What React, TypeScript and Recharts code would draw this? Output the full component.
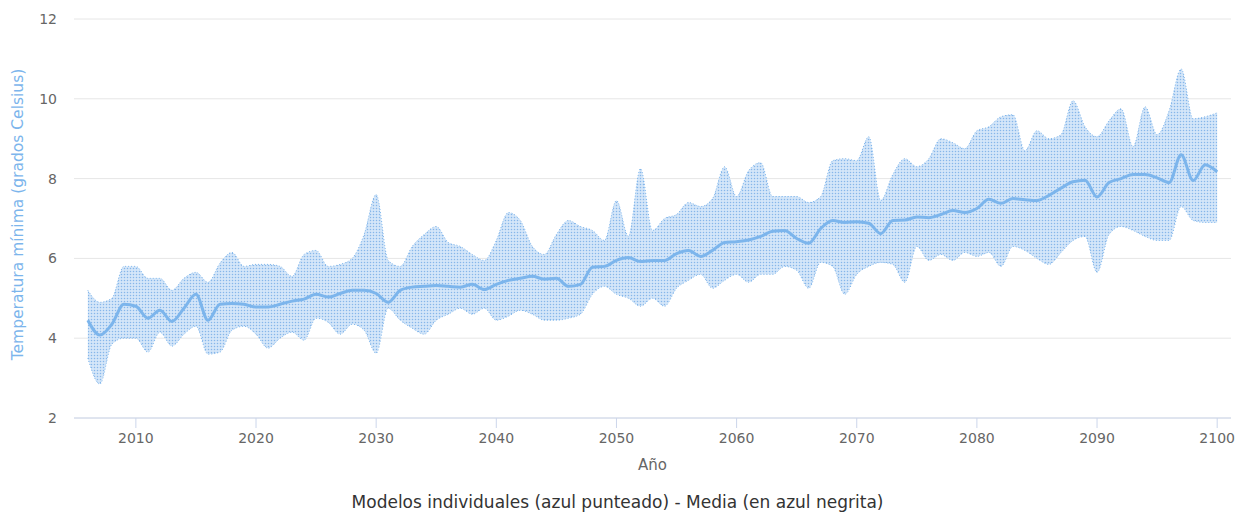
import React from "react";
import {
  ComposedChart,
  Area,
  Line,
  XAxis,
  YAxis,
  CartesianGrid,
} from "recharts";

// ─── Data ──────────────────────────────────────────────────────────────────────

const FIRST_YEAR = 2006;

// ensemble mean (bold line), 2006 → 2100
const meanTemp = [
  4.45, 4.08, 4.35, 4.85, 4.8, 4.5, 4.7, 4.42, 4.75, 5.1, 4.45, 4.85, 4.87, 4.85, 4.78, 4.78, 4.85, 4.93, 4.98, 5.1, 5.03, 5.12, 5.2, 5.2, 5.12,
  4.9, 5.2, 5.28, 5.3, 5.32, 5.3, 5.28, 5.35, 5.22, 5.35, 5.45, 5.5, 5.55, 5.48, 5.5, 5.3, 5.35, 5.78, 5.8, 5.95, 6.02, 5.92, 5.95, 5.95,
  6.12, 6.2, 6.05, 6.2, 6.4, 6.42, 6.46, 6.55, 6.68, 6.7, 6.5, 6.38, 6.75, 6.95, 6.9, 6.92, 6.88, 6.62, 6.95, 6.96, 7.04, 7.02, 7.1, 7.2,
  7.15, 7.25, 7.48, 7.38, 7.5, 7.47, 7.45, 7.58, 7.76, 7.92, 7.96, 7.54, 7.9, 8.0, 8.1, 8.1, 8.02, 7.9, 8.6, 7.95, 8.35, 8.17,
];

// highest of the individual models
const modelMax = [
  5.2, 4.9, 5.0, 5.8, 5.8, 5.5, 5.5, 5.2, 5.5, 5.65, 5.4, 5.88, 6.15, 5.8, 5.85, 5.85, 5.8, 5.55, 6.1, 6.2, 5.8, 5.85, 6.0, 6.6, 7.6,
  5.95, 5.8, 6.3, 6.6, 6.8, 6.4, 6.3, 6.1, 5.95, 6.45, 7.15, 6.95, 6.3, 6.1, 6.6, 6.95, 6.8, 6.7, 6.45, 7.45, 6.55, 8.25, 6.7, 7.0,
  7.1, 7.4, 7.3, 7.5, 8.3, 7.55, 8.2, 8.4, 7.55, 7.55, 7.55, 7.4, 7.55, 8.45, 8.5, 8.45, 9.05, 7.45, 8.1, 8.5, 8.3, 8.5, 9.0, 8.9,
  8.75, 9.2, 9.3, 9.55, 9.6, 8.7, 9.2, 9.0, 9.1, 9.95, 9.3, 9.05, 9.45, 9.75, 8.8, 9.8, 9.1, 9.7, 10.75, 9.5, 9.55, 9.65,
];

// lowest of the individual models
const modelMin = [
  3.5, 2.85, 3.85, 4.0, 4.0, 3.65, 4.15, 3.8, 4.1, 4.3, 3.6, 3.65, 4.2, 4.3, 4.1, 3.75, 4.0, 4.15, 3.95, 4.5, 4.4, 4.1, 4.35, 4.2, 3.62,
  4.75, 4.45, 4.25, 4.1, 4.45, 4.6, 4.75, 4.6, 4.75, 4.45, 4.55, 4.7, 4.6, 4.45, 4.45, 4.5, 4.6, 5.1, 5.3, 5.1, 5.0, 4.8, 5.0, 4.8,
  5.25, 5.45, 5.6, 5.25, 5.45, 5.6, 5.4, 5.6, 5.6, 5.8, 5.7, 5.25, 5.9, 5.8, 5.1, 5.6, 5.8, 5.9, 5.85, 5.4, 6.3, 5.95, 6.1, 5.95,
  6.15, 6.05, 6.15, 5.8, 6.3, 6.2, 6.0, 5.85, 6.15, 6.45, 6.55, 5.65, 6.6, 6.8, 6.7, 6.55, 6.45, 6.45, 7.3, 6.95, 6.9, 6.9,
];

const yearTicks = [2010, 2020, 2030, 2040, 2050, 2060, 2070, 2080, 2090, 2100];
const tempTicks = [2, 4, 6, 8, 10, 12];

const rows = meanTemp.map((m, i) => ({
  year: FIRST_YEAR + i,
  mean: m,
  range: [modelMin[i], modelMax[i]],
}));

// ─── Styles ────────────────────────────────────────────────────────────────────

const FONT = "'DejaVu Sans', sans-serif";
const BLUE = "#7cb5ec";

const yTitle = (p: any) => {
  const { y, height } = p.viewBox;
  const cx = 18;
  const cy = y + height / 2 - 4;
  return (
    <text
      x={cx}
      y={cy}
      transform={`rotate(-90, ${cx}, ${cy})`}
      textAnchor="middle"
      dominantBaseline="central"
      fill={BLUE}
      fontSize={15.5}
      fontFamily={FONT}
    >
      Temperatura mínima (grados Celsius)
    </text>
  );
};

const xTitle = (p: any) => {
  const { x, width } = p.viewBox;
  return (
    <text
      x={x + width / 2}
      y={465}
      textAnchor="middle"
      dominantBaseline="central"
      fill="#666666"
      fontSize={15}
      fontFamily={FONT}
    >
      Año
    </text>
  );
};

// ─── Component ─────────────────────────────────────────────────────────────────

export default function App() {
  return (
    <div style={{ position: "absolute", left: 0, top: 0, width: 1239, height: 519, background: "#fff" }}>
      <ComposedChart
        width={1239}
        height={519}
        data={rows}
        margin={{ top: 19, right: 8, left: 0, bottom: 41 }}
      >
        <defs>
          <pattern id="modelDots" width="3" height="3" patternUnits="userSpaceOnUse">
            <rect width="3" height="3" fill="#d4e6f9" />
            <circle cx="1.5" cy="1.5" r="0.75" fill="#86b6ea" />
          </pattern>
        </defs>
        <CartesianGrid vertical={false} stroke="#e6e6e6" />
        <XAxis
          dataKey="year"
          type="number"
          domain={[2004.85, 2101.15]}
          ticks={yearTicks}
          allowDataOverflow
          height={60}
          tickSize={10}
          tickMargin={5}
          stroke="#ccd6eb"
          tick={{ fill: "#666666", fontSize: 14, fontFamily: FONT }}
          label={xTitle}
        />
        <YAxis
          type="number"
          domain={[2, 12]}
          ticks={tempTicks}
          width={74}
          axisLine={false}
          tickLine={false}
          tickSize={0}
          tickMargin={17}
          tick={{ fill: "#666666", fontSize: 14, fontFamily: FONT }}
          label={yTitle}
        />
        {/* envelope of the individual models, dotted texture */}
        <Area
          dataKey="range"
          type="monotone"
          fill="url(#modelDots)"
          fillOpacity={1}
          stroke={BLUE}
          strokeWidth={1}
          strokeDasharray="1 2"
          dot={false}
          activeDot={false}
          isAnimationActive={false}
        />
        {/* ensemble mean */}
        <Line
          dataKey="mean"
          type="monotone"
          stroke={BLUE}
          strokeWidth={3}
          dot={false}
          activeDot={false}
          isAnimationActive={false}
        />
      </ComposedChart>
      <div
        style={{
          position: "absolute",
          left: 0,
          top: 491,
          width: 1235,
          textAlign: "center",
          fontFamily: FONT,
          fontSize: 17,
          color: "#333333",
          lineHeight: "22px",
        }}
      >
        Modelos individuales (azul punteado) - Media (en azul negrita)
      </div>
    </div>
  );
}
